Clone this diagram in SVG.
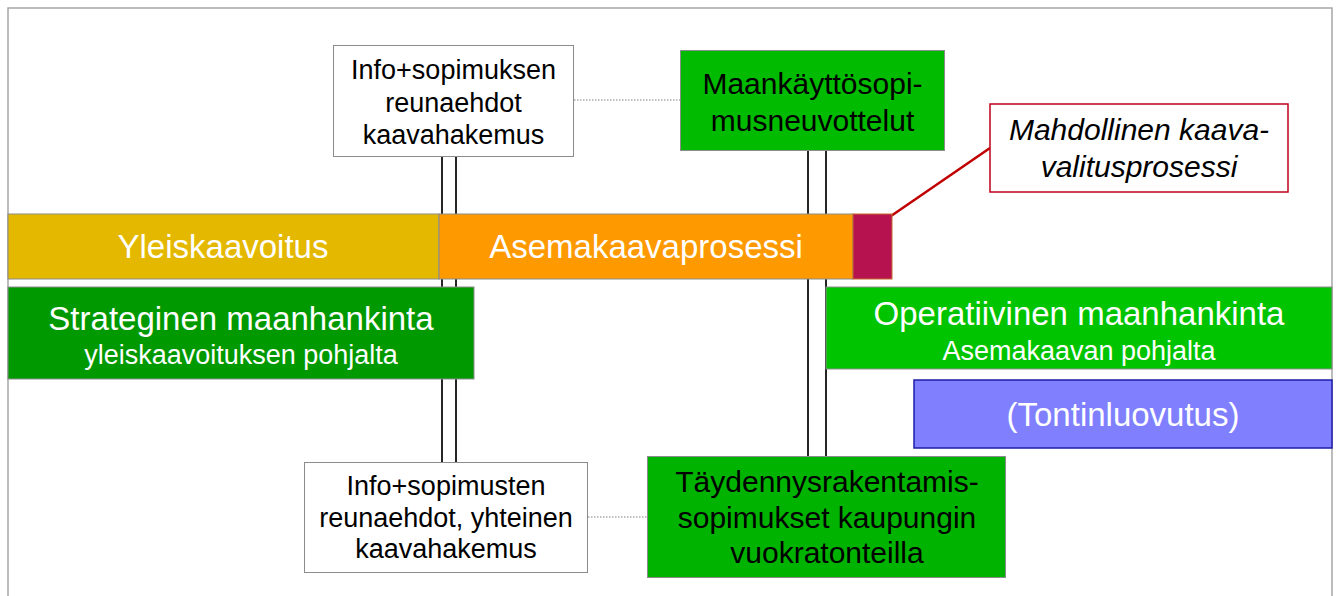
<svg xmlns="http://www.w3.org/2000/svg" width="1338" height="596" viewBox="0 0 1338 596">
<style>
  text { font-family: "Liberation Sans", Arial, sans-serif; text-anchor: middle; }
  .dark { fill: #000000; }
  .light { fill: #ffffff; }
  .box { stroke: #8c8c8c; stroke-width: 1; }
  .t27 { font-size: 27px; }
  .t30 { font-size: 30px; }
  .t33 { font-size: 33px; }
  .vline { stroke: #262626; stroke-width: 2; fill: none; }
  .dot { stroke: #808080; stroke-width: 1; stroke-dasharray: 1.5 1.5; fill: none; }
</style>
<rect x="0" y="0" width="1338" height="596" fill="#ffffff"/>
<rect x="8" y="8" width="1324" height="600" fill="none" stroke="#a6a6a6" stroke-width="1.5"/>

<g id="connectors">
  <line class="vline" x1="442" y1="157" x2="442" y2="462"/>
  <line class="vline" x1="456" y1="157" x2="456" y2="462"/>
  <line class="vline" x1="808" y1="151" x2="808" y2="456"/>
  <line class="vline" x1="826" y1="151" x2="826" y2="456"/>
  <line class="dot" x1="574" y1="100" x2="680" y2="100"/>
  <line class="dot" x1="588" y1="517" x2="647" y2="517"/>
  <line x1="891" y1="216" x2="990" y2="148" stroke="#c00000" stroke-width="2.5"/>
</g>

<g id="info-top">
  <rect class="box" x="333.5" y="45.5" width="240" height="111" fill="#ffffff"/>
  <text class="t27 dark" x="453.5" y="79">Info+sopimuksen</text>
  <text class="t27 dark" x="453.5" y="112">reunaehdot</text>
  <text class="t27 dark" x="453.5" y="144">kaavahakemus</text>
</g>

<g id="maankaytto">
  <rect class="box" x="680.5" y="50.5" width="264" height="100" fill="#00bb00"/>
  <text class="t30 dark" x="812.5" y="94">Maankäyttösopi-</text>
  <text class="t30 dark" x="812.5" y="131">musneuvottelut</text>
</g>

<g id="valitus">
  <rect x="990" y="104" width="298" height="88" fill="#ffffff" stroke="#c0001a" stroke-width="1.5"/>
  <text class="t30 dark" x="1139" y="140" font-style="italic">Mahdollinen kaava-</text>
  <text class="t30 dark" x="1139" y="177" font-style="italic">valitusprosessi</text>
</g>

<g id="yleiskaavoitus">
  <rect class="box" x="8" y="214" width="431" height="65" fill="#e5b800"/>
  <text class="t33 light" x="223" y="258">Yleiskaavoitus</text>
</g>

<g id="asemakaavaprosessi">
  <rect class="box" x="439" y="214" width="414" height="65" fill="#ff9900"/>
  <text class="t33 light" x="646" y="258">Asemakaavaprosessi</text>
</g>

<g id="valitus-bar">
  <rect x="853" y="214" width="39" height="65" fill="#b5124f" stroke="#c86a2a" stroke-width="1"/>
</g>

<g id="strateginen">
  <rect class="box" x="8" y="287" width="466" height="92" fill="#009900"/>
  <text class="t33 light" x="241" y="330">Strateginen maanhankinta</text>
  <text class="t27 light" x="241" y="364">yleiskaavoituksen pohjalta</text>
</g>

<g id="operatiivinen">
  <rect class="box" x="826" y="287" width="506" height="82" fill="#00c400"/>
  <text class="t33 light" x="1079" y="325">Operatiivinen maanhankinta</text>
  <text class="t27 light" x="1079" y="360">Asemakaavan pohjalta</text>
</g>

<g id="tontinluovutus">
  <rect x="914" y="380" width="418" height="68" fill="#8080ff" stroke="#1c1ca8" stroke-width="1.5"/>
  <text class="t33 light" x="1123" y="426">(Tontinluovutus)</text>
</g>

<g id="info-bottom">
  <rect class="box" x="304.5" y="462.5" width="283" height="110" fill="#ffffff"/>
  <text class="t27 dark" x="446" y="495">Info+sopimusten</text>
  <text class="t27 dark" x="446" y="527">reunaehdot, yhteinen</text>
  <text class="t27 dark" x="446" y="558">kaavahakemus</text>
</g>

<g id="taydennys">
  <rect class="box" x="647.5" y="456.5" width="358" height="121" fill="#00b300"/>
  <text class="t30 dark" x="827" y="492">Täydennysrakentamis-</text>
  <text class="t30 dark" x="827" y="528">sopimukset kaupungin</text>
  <text class="t30 dark" x="827" y="563">vuokratonteilla</text>
</g>
</svg>
